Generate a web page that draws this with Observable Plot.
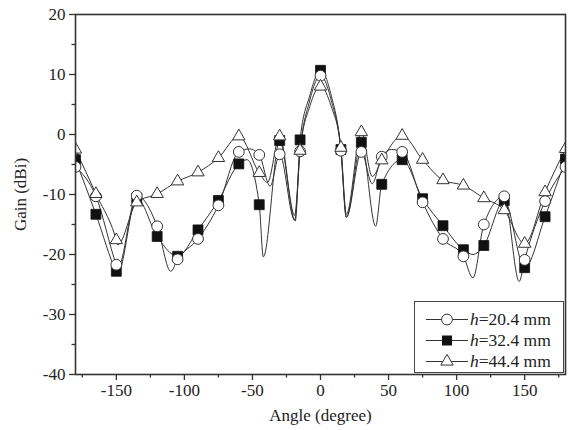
<!DOCTYPE html>
<html>
<head>
<meta charset="utf-8">
<script src="https://cdn.jsdelivr.net/npm/d3@7"></script>
<script src="https://cdn.jsdelivr.net/npm/@observablehq/plot@0.6"></script>
<style>
  html, body { margin: 0; padding: 0; background: #fff; }
  #wrap { position: relative; width: 573px; height: 430px; font-family: "Liberation Serif", "Times New Roman", serif; }
  #legend { position: absolute; left: 414px; top: 301px; width: 150px; height: 72px; border: 1.3px solid #444; background: #fff; box-sizing: border-box; }
  .row { position: absolute; left: 0; height: 21px; width: 150px; }
  .row svg { position: absolute; left: 8px; top: 0; }
  .row span { position: absolute; left: 55px; top: 0; line-height: 21px; font-size: 17.5px; color: #222; white-space: nowrap; }
</style>
</head>
<body>
<div id="wrap"></div>
<script>
// Marker angles (degrees)
const angles = [-180,-165,-150,-135,-120,-105,-90,-75,-60,-45,-30,-15,0,15,30,45,60,75,90,105,120,135,150,165,180];
// Marker gains (dBi)
const gain20 = [-5.4,-10.3,-21.7,-10.2,-15.3,-20.8,-17.4,-11.8,-2.9,-3.4,-3.3,-2.8,9.8,-2.7,-2.9,-3.7,-2.9,-11.3,-17.4,-20.3,-15.0,-10.3,-20.9,-11.1,-5.4];
const gain32 = [-4.2,-13.3,-22.8,-10.6,-17.0,-20.3,-15.9,-11.0,-4.9,-11.7,-1.0,-0.9,10.7,-2.5,-1.3,-8.3,-4.2,-10.7,-15.2,-19.2,-18.5,-11.0,-22.2,-13.7,-4.1];
const gain44 = [-2.5,-9.9,-17.6,-11.3,-9.9,-7.8,-6.3,-3.9,-0.3,-6.4,-0.3,-2.7,8.0,-2.2,0.4,-4.3,-0.2,-4.2,-7.6,-8.5,-10.6,-12.6,-18.2,-9.6,-2.4];
// Extra curve points read between markers (nulls / lobe shoulders)
const extraAngle20 = [-149,-110,-52,-37,-19,-8,8,19,38,52,112,146];
const extraGain20  = [-22.3,-22.8,-2.4,-8.6,-14.3,5.6,5.6,-13.8,-8.2,-2.5,-23.9,-24.5];
const extraAngle32 = [-149,-54,-42,-18.5,-8,8,19,40.5,112];
const extraGain32  = [-23.2,-4.2,-20.4,-14.4,6.4,6.4,-13.8,-15.3,-20.0];
const extraAngle44 = [-149,-39,-19,-8,8,19,38];
const extraGain44  = [-18.4,-8.0,-13.5,4.6,4.6,-13.3,-7.0];
// Axis ticks
const xMajor = [-150,-100,-50,0,50,100,150];
const xMinor = [-175,-125,-75,-25,25,75,125,175];
const yMajor = [-40,-30,-20,-10,0,10,20];
const yMinor = [-35,-25,-15,-5,5,15];
const seriesLabels = ["20.4 mm","32.4 mm","44.4 mm"];

const markers = (g) => angles.map((a, i) => ({angle: a, gain: g[i]}));
const curve = (g, ea, eg) => markers(g).concat(ea.map((a, i) => ({angle: a, gain: eg[i]}))).sort((p, q) => p.angle - q.angle);

const m20 = markers(gain20), m32 = markers(gain32), m44 = markers(gain44);
const c20 = curve(gain20, extraAngle20, extraGain20);
const c32 = curve(gain32, extraAngle32, extraGain32);
const c44 = curve(gain44, extraAngle44, extraGain44);

const ink = "#333";
const chart = Plot.plot({
  width: 573, height: 430,
  marginLeft: 75, marginRight: 8, marginTop: 14, marginBottom: 56,
  style: {fontFamily: "'Liberation Serif', 'Times New Roman', serif", fontSize: "17px", background: "white", color: "#222", overflow: "visible"},
  x: {domain: [-180, 180]},
  y: {domain: [-40, 20]},
  marks: [
    Plot.lineY(c32, {x: "angle", y: "gain", curve: "monotone-x", stroke: ink, strokeWidth: 1, clip: true}),
    Plot.lineY(c20, {x: "angle", y: "gain", curve: "monotone-x", stroke: ink, strokeWidth: 1, clip: true}),
    Plot.lineY(c44, {x: "angle", y: "gain", curve: "monotone-x", stroke: ink, strokeWidth: 1, clip: true}),
    Plot.dot(m32, {x: "angle", y: "gain", symbol: "square", r: 5.6, fill: "#111", stroke: "#111", strokeWidth: 0.8, clip: true}),
    Plot.dot(m20, {x: "angle", y: "gain", symbol: "circle", r: 5.4, fill: "white", stroke: ink, strokeWidth: 1, clip: true}),
    Plot.dot(m44, {x: "angle", y: "gain", symbol: "triangle", r: 4.6, fill: "white", stroke: ink, strokeWidth: 1, clip: true}),
    Plot.axisX({ticks: xMajor, tickSize: 6, tickPadding: 3, tickFormat: d => String(d), stroke: ink, strokeWidth: 1.3,
      label: "Angle (degree)", labelAnchor: "center", labelOffset: 46, labelArrow: "none"}),
    Plot.axisX({ticks: xMinor, tickSize: 3.5, tickFormat: () => "", stroke: ink, strokeWidth: 1.3, label: null}),
    Plot.axisY({ticks: yMajor, tickSize: 6, tickPadding: 4, tickFormat: d => String(d), stroke: ink, strokeWidth: 1.3,
      label: "Gain (dBi)", labelAnchor: "center", labelOffset: 62, labelArrow: "none"}),
    Plot.axisY({ticks: yMinor, tickSize: 3.5, tickFormat: () => "", stroke: ink, strokeWidth: 1.3, label: null}),
    Plot.frame({stroke: ink, strokeWidth: 1.6})
  ]
});
const wrap = document.getElementById("wrap");
wrap.appendChild(chart);

// Legend
const legend = document.createElement("div");
legend.id = "legend";
const symbols = [
  '<circle cx="24" cy="10.5" r="5.4" fill="white" stroke="#333" stroke-width="1"/>',
  '<rect x="19" y="5.5" width="10" height="10" fill="#111"/>',
  '<path d="' + d3.symbol(d3.symbolTriangle, Math.PI * 4.6 * 4.6)() + '" transform="translate(24,10.5)" fill="white" stroke="#333" stroke-width="1"/>'
];
seriesLabels.forEach((lab, i) => {
  const row = document.createElement("div");
  row.className = "row";
  row.style.top = (7 + i * 21) + "px";
  row.innerHTML = '<svg width="48" height="21"><line x1="3" x2="45" y1="10.5" y2="10.5" stroke="#333" stroke-width="1"/>' + symbols[i] + '</svg>' +
    '<span><i>h</i>=' + lab + '</span>';
  legend.appendChild(row);
});
wrap.appendChild(legend);
</script>
</body>
</html>
